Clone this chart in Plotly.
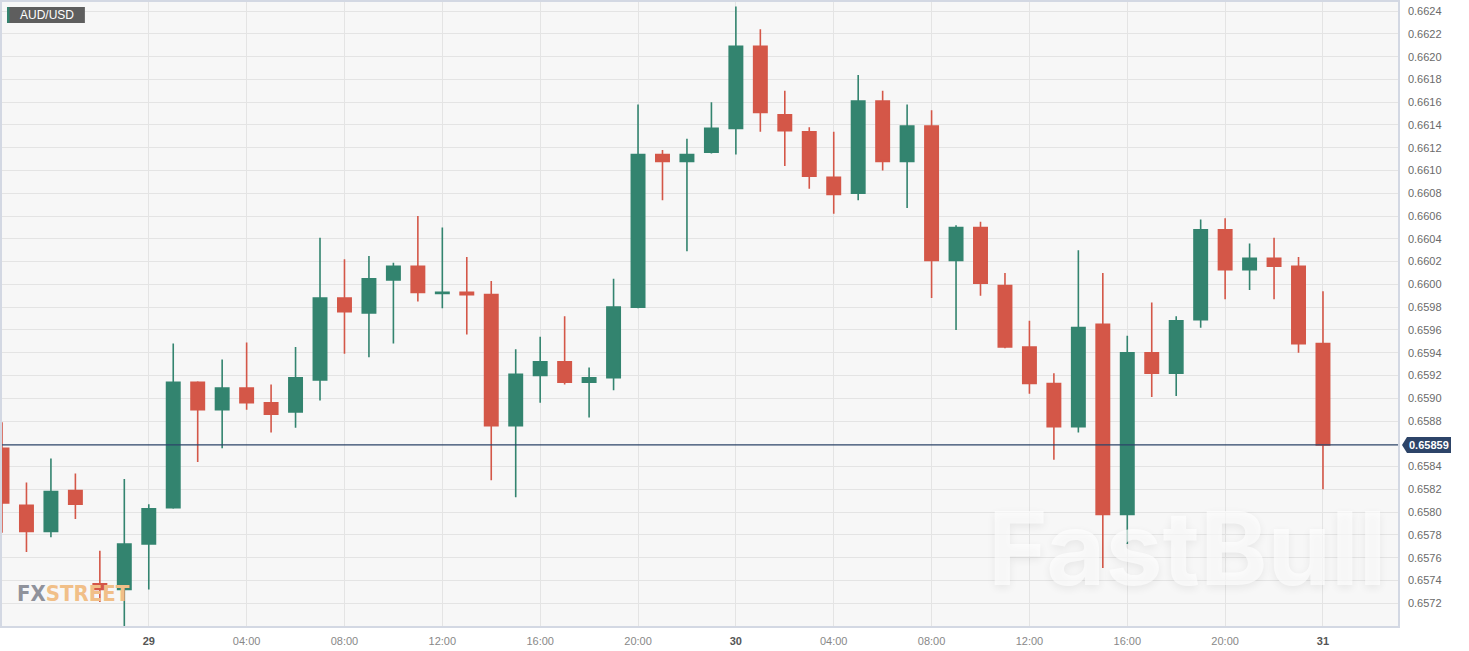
import plotly.graph_objects as go
import pandas as pd

# ---------------- data (hourly AUD/USD) ----------------
start_time = "2024-05-28 18:00"
opens = [0.65856, 0.65806, 0.65783, 0.65819, 0.65737, 0.65732, 0.65772, 0.65804,
         0.65914, 0.65890, 0.65909, 0.65896, 0.65888, 0.65916, 0.65988, 0.65975,
         0.66004, 0.66016, 0.65992, 0.65993, 0.65991, 0.65876, 0.65920, 0.65932,
         0.65914, 0.65918, 0.65980, 0.66114, 0.66108, 0.66116, 0.66137, 0.66209,
         0.66149, 0.66134, 0.66094, 0.66080, 0.66161, 0.66108, 0.66139, 0.66021,
         0.66050, 0.65999, 0.65945, 0.65913, 0.65875, 0.65965, 0.65798, 0.65940,
         0.65922, 0.65969, 0.66048, 0.66013, 0.66023, 0.66016, 0.65948]
highs = [0.65879, 0.65826, 0.65847, 0.65834, 0.65766, 0.65829, 0.65807, 0.65948,
         0.65915, 0.65934, 0.65949, 0.65912, 0.65945, 0.66041, 0.66022, 0.66025,
         0.66019, 0.66060, 0.66050, 0.66024, 0.66003, 0.65943, 0.65954, 0.65972,
         0.65927, 0.66005, 0.66158, 0.66118, 0.66128, 0.66160, 0.66244, 0.66224,
         0.66170, 0.66138, 0.66134, 0.66184, 0.66170, 0.66158, 0.66153, 0.66052,
         0.66055, 0.66010, 0.65968, 0.65922, 0.66030, 0.66010, 0.65955, 0.65984,
         0.65972, 0.66057, 0.66058, 0.66036, 0.66041, 0.66024, 0.65994]
lows = [0.65782, 0.65765, 0.65778, 0.65794, 0.65721, 0.65695, 0.65732, 0.65803,
        0.65844, 0.65856, 0.65890, 0.65870, 0.65874, 0.65898, 0.65939, 0.65936,
        0.65948, 0.65985, 0.65979, 0.65956, 0.65828, 0.65813, 0.65896, 0.65912,
        0.65883, 0.65907, 0.65979, 0.66074, 0.66029, 0.66115, 0.66114, 0.66134,
        0.66104, 0.66084, 0.66062, 0.66074, 0.66100, 0.66067, 0.65988, 0.65960,
        0.65990, 0.65944, 0.65904, 0.65846, 0.65870, 0.65751, 0.65772, 0.65901,
        0.65902, 0.65962, 0.65987, 0.65995, 0.65987, 0.65940, 0.65820]
closes = [0.65808, 0.65783, 0.65818, 0.65807, 0.65732, 0.65772, 0.65803, 0.65914,
          0.65890, 0.65909, 0.65896, 0.65886, 0.65918, 0.65988, 0.65976, 0.66005,
          0.66016, 0.65993, 0.65993, 0.65991, 0.65876, 0.65921, 0.65932, 0.65914,
          0.65918, 0.65980, 0.66114, 0.66108, 0.66114, 0.66137, 0.66209, 0.66151,
          0.66135, 0.66095, 0.66079, 0.66161, 0.66108, 0.66139, 0.66021, 0.66050,
          0.66001, 0.65945, 0.65913, 0.65875, 0.65962, 0.65798, 0.65940, 0.65922,
          0.65968, 0.66048, 0.66013, 0.66023, 0.66016, 0.65948, 0.65859]

tick_times = ["2024-05-29 00:00", "2024-05-29 04:00", "2024-05-29 08:00", "2024-05-29 12:00",
              "2024-05-29 16:00", "2024-05-29 20:00", "2024-05-30 00:00", "2024-05-30 04:00",
              "2024-05-30 08:00", "2024-05-30 12:00", "2024-05-30 16:00", "2024-05-30 20:00",
              "2024-05-31 00:00"]
tick_labels = ["29", "04:00", "08:00", "12:00", "16:00", "20:00", "30",
               "04:00", "08:00", "12:00", "16:00", "20:00", "31"]
y_ticks = [0.6572, 0.6574, 0.6576, 0.6578, 0.6580, 0.6582, 0.6584, 0.6588,
           0.6590, 0.6592, 0.6594, 0.6596, 0.6598, 0.6600, 0.6602, 0.6604, 0.6606,
           0.6608, 0.6610, 0.6612, 0.6614, 0.6616, 0.6618, 0.6620, 0.6622, 0.6624]
x_range = ["2024-05-28 18:00", "2024-05-31 03:04"]
y_range = [0.65700, 0.66248]
symbol = "AUD/USD"

# ---------------- figure ----------------
times = pd.date_range(start_time, periods=len(opens), freq="h")
GREEN = "#33846f"
RED = "#d45748"
NAVY = "#2d4468"

ticktext = [f"<b><span style='color:#555'>{t}</span></b>" if ":" not in t else t
            for t in tick_labels]

fig = go.Figure(go.Candlestick(
    x=times, open=opens, high=highs, low=lows, close=closes,
    increasing=dict(line=dict(color=GREEN, width=1.6), fillcolor=GREEN),
    decreasing=dict(line=dict(color=RED, width=1.6), fillcolor=RED),
    whiskerwidth=0, showlegend=False, hoverinfo="skip",
))

W, H = 1398, 626  # plot-area size in px

fig.update_layout(
    width=1469, height=651,
    margin=dict(l=0, r=71, t=0, b=25),
    paper_bgcolor="white",
    plot_bgcolor="#f7f7f7",
    boxgap=0.22,
    font=dict(family="Liberation Sans, Arial, sans-serif", size=11, color="#777"),
    xaxis=dict(
        type="date", range=x_range, rangeslider=dict(visible=False),
        tickvals=tick_times, ticktext=ticktext,
        showgrid=True, gridcolor="#e4e4e4", gridwidth=1,
        showline=True, linecolor="#d3d8e3", linewidth=1.5, mirror=True,
        ticks="", ticklabelstandoff=4, zeroline=False,
        tickfont=dict(size=11, color="#888"),
    ),
    yaxis=dict(
        side="right", range=y_range, tickvals=y_ticks, tickformat=".4f",
        showgrid=True, gridcolor="#e4e4e4", gridwidth=1,
        showline=True, linecolor="#d3d8e3", linewidth=1.5, mirror=True,
        ticks="", ticklabelstandoff=6, zeroline=False,
        tickfont=dict(size=11, color="#6a6a6a"),
    ),
)

last_price = closes[-1]

# current price line
fig.add_shape(type="line", xref="paper", x0=0, x1=1, yref="y", y0=last_price, y1=last_price,
              line=dict(color=NAVY, width=1.2), layer="above")
# price tag box with arrow
fig.add_shape(type="path", xref="paper", yref="y", xanchor=1, yanchor=last_price,
              xsizemode="pixel", ysizemode="pixel",
              path="M 4 0 L 9 8 L 53 8 L 53 -8 L 9 -8 Z",
              fillcolor=NAVY, line=dict(width=0), layer="above")
fig.add_annotation(xref="paper", x=1, xanchor="left", xshift=9, yref="y", y=last_price,
                   text=f"<b>{last_price:.5f}</b>", showarrow=False,
                   font=dict(size=11, color="white", family="Liberation Sans, Arial, sans-serif"))

# symbol tag top-left
fig.add_shape(type="rect", xref="paper", yref="paper",
              x0=5 / W, x1=83 / W, y0=1 - 21 / H, y1=1 - 5 / H,
              fillcolor="#5e5e5e", line=dict(width=0), layer="above")
fig.add_shape(type="rect", xref="paper", yref="paper",
              x0=5 / W, x1=7.5 / W, y0=1 - 21 / H, y1=1 - 5 / H,
              fillcolor=GREEN, line=dict(width=0), layer="above")
fig.add_annotation(xref="paper", yref="paper", x=16 / W, y=1 - 13 / H, xanchor="left",
                   yanchor="middle", text=symbol, showarrow=False,
                   font=dict(size=12, color="white", family="Liberation Sans, Arial, sans-serif"))

# watermarks
fig.add_annotation(xref="paper", yref="paper", x=13 / W, y=1 - 593 / H, xanchor="left",
                   yanchor="middle", showarrow=False,
                   text="<b><span style='color:#8f929b'>FX</span><span style='color:#f1bf88'>STREET</span></b>",
                   font=dict(size=22, family="Liberation Sans Narrow, DejaVu Sans Condensed, Arial Narrow, sans-serif"))
fig.add_annotation(xref="paper", yref="paper", x=1187 / W, y=1 - 548 / H, xanchor="center",
                   yanchor="middle", showarrow=False, text="<b>FastBull</b>",
                   font=dict(size=102, family="Inter, Lato, sans-serif",
                             color="rgba(255,255,255,0.65)",
                             shadow="0px 3px 8px rgba(0,0,0,0.10)"))

fig.write_html("out.html", config={"displayModeBar": False},
               post_script="document.body.style.margin='0';document.body.style.overflow='hidden';")
